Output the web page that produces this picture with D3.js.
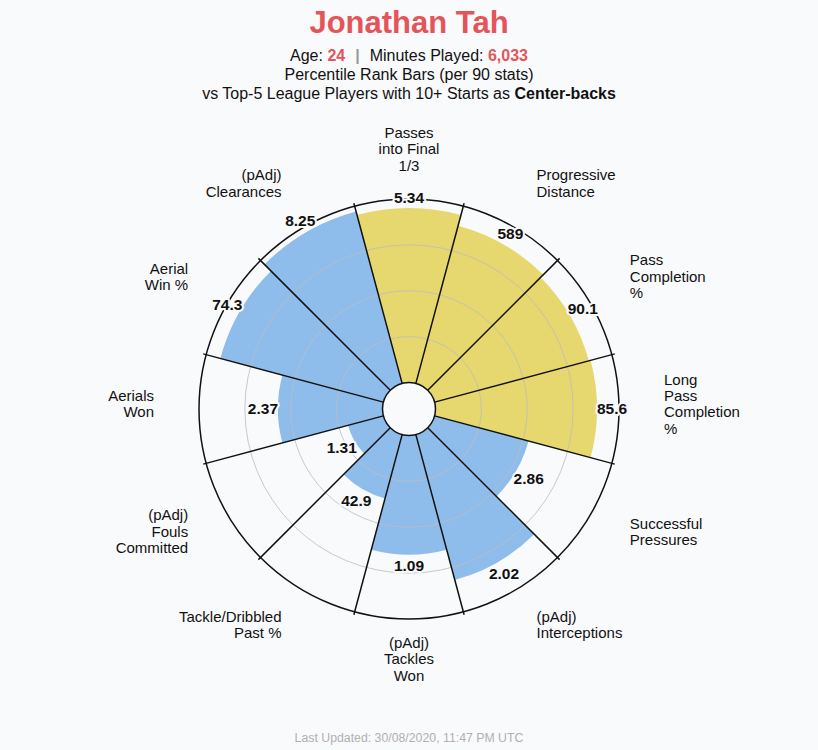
<!DOCTYPE html>
<html>
<head>
<meta charset="utf-8">
<script src="https://cdn.jsdelivr.net/npm/d3@7"></script>
<style>
  html, body { margin: 0; padding: 0; background: #f9fafc; }
  svg { display: block; font-family: "Helvetica Neue", Helvetica, Arial, "Liberation Sans", sans-serif; }
</style>
</head>
<body>
<svg id="chart" width="818" height="750"></svg>
<script>
// ---- data ----
const categories = [
  "Passes\ninto Final\n1/3",
  "Progressive\nDistance",
  "Pass\nCompletion\n%",
  "Long\nPass\nCompletion\n%",
  "Successful\nPressures",
  "(pAdj)\nInterceptions",
  "(pAdj)\nTackles\nWon",
  "Tackle/Dribbled\nPast %",
  "(pAdj)\nFouls\nCommitted",
  "Aerials\nWon",
  "Aerial\nWin %",
  "(pAdj)\nClearances"
];
const statValues = ["5.34", "589", "90.1", "85.6", "2.86", "2.02", "1.09", "42.9", "1.31", "2.37", "74.3", "8.25"];
const percentiles = [95, 89, 87, 88, 53, 82, 65, 36, 20, 57, 92, 97];
const groups = ["possession", "possession", "possession", "possession",
                "defense", "defense", "defense", "defense", "defense", "defense", "defense", "defense"];
const gridTicks = [25, 50, 75];
const playerName = "Jonathan Tah";
const age = "24";
const minutes = "6,033";
const position = "Center-backs";
const updated = "Last Updated: 30/08/2020, 11:47 PM UTC";

// ---- layout ----
const W = 818, H = 750;
const cx = 409, cy = 409;
const innerR = 26.5, outerR = 210;
const bg = "#f9fafc";
const colors = { possession: "#e6d76e", defense: "#8ebdec" };
const red = "#e4555a";

const svg = d3.select("#chart");
svg.append("rect").attr("width", W).attr("height", H).attr("fill", bg);

// ---- header ----
svg.append("text").attr("x", W / 2).attr("y", 33).attr("text-anchor", "middle")
  .attr("font-size", 31).attr("font-weight", "bold").attr("fill", red).text(playerName);

const l1 = svg.append("text").attr("x", W / 2).attr("y", 61).attr("text-anchor", "middle")
  .attr("font-size", 16).attr("fill", "#111");
l1.append("tspan").text("Age: ");
l1.append("tspan").attr("fill", red).attr("font-weight", "bold").text(age);
l1.append("tspan").attr("fill", "#999").attr("font-weight", "bold").attr("dx", 10).text("|");
l1.append("tspan").attr("dx", 10).text("Minutes Played: ");
l1.append("tspan").attr("fill", red).attr("font-weight", "bold").text(minutes);

svg.append("text").attr("x", W / 2).attr("y", 80).attr("text-anchor", "middle")
  .attr("font-size", 16).attr("fill", "#111").text("Percentile Rank Bars (per 90 stats)");

const l3 = svg.append("text").attr("x", W / 2).attr("y", 99).attr("text-anchor", "middle")
  .attr("font-size", 16).attr("fill", "#111");
l3.append("tspan").text("vs Top-5 League Players with 10+ Starts as ");
l3.append("tspan").attr("font-weight", "bold").text(position);

svg.append("text").attr("x", W / 2).attr("y", 742).attr("text-anchor", "middle")
  .attr("font-size", 12.3).attr("fill", "#b0b0b0").text(updated);

// ---- polar chart ----
const n = categories.length;
const step = 2 * Math.PI / n;
const r = d3.scaleLinear().domain([0, 100]).range([innerR, outerR]);
const g = svg.append("g").attr("transform", `translate(${cx},${cy})`);

const data = categories.map((c, i) => ({
  cat: c, val: statValues[i], pct: percentiles[i], grp: groups[i],
  a0: i * step - step / 2, a1: i * step + step / 2, am: i * step
}));

// bars
const arc = d3.arc();
g.selectAll("path.bar").data(data).join("path").attr("class", "bar")
  .attr("d", d => arc({ innerRadius: innerR, outerRadius: r(d.pct), startAngle: d.a0, endAngle: d.a1 }))
  .attr("fill", d => colors[d.grp]);

// grid circles
g.selectAll("circle.grid").data(gridTicks).join("circle").attr("class", "grid")
  .attr("r", d => r(d)).attr("fill", "none").attr("stroke", "#bdbdbd").attr("stroke-width", 1).attr("opacity", 0.8);

// outer circle
g.append("circle").attr("r", outerR).attr("fill", "none").attr("stroke", "#111").attr("stroke-width", 1.5);

// spokes
g.selectAll("line.spoke").data(data).join("line").attr("class", "spoke")
  .attr("x1", d => innerR * Math.sin(d.a0)).attr("y1", d => -innerR * Math.cos(d.a0))
  .attr("x2", d => (outerR + 3) * Math.sin(d.a0)).attr("y2", d => -(outerR + 3) * Math.cos(d.a0))
  .attr("stroke", "#111").attr("stroke-width", 1.5);

// hole
g.append("circle").attr("r", innerR).attr("fill", bg).attr("stroke", "#111").attr("stroke-width", 1.5);

// value labels (offset grows with horizontal text extent)
g.selectAll("text.val").data(data).join("text").attr("class", "val")
  .attr("x", d => (r(d.pct) + 11 + 4 * Math.abs(Math.sin(d.am))) * Math.sin(d.am))
  .attr("y", d => -(r(d.pct) + 11 + 4 * Math.abs(Math.sin(d.am))) * Math.cos(d.am))
  .attr("dy", "0.35em").attr("text-anchor", "middle")
  .attr("font-size", 15.5).attr("font-weight", "bold").attr("fill", "#111")
  .attr("stroke", bg).attr("stroke-width", 4).attr("paint-order", "stroke").attr("stroke-linejoin", "round")
  .text(d => d.val);

// category labels
const labR = 255, lineH = 16.3;
data.forEach(d => {
  const s = Math.sin(d.am), c = Math.cos(d.am);
  const x = labR * s, y = -labR * c - 5;
  const anchor = Math.abs(s) < 0.1 ? "middle" : (s > 0 ? "start" : "end");
  const lines = d.cat.split("\n");
  const t = g.append("text").attr("x", x).attr("y", y).attr("text-anchor", anchor)
    .attr("font-size", 15).attr("fill", "#111");
  lines.forEach((ln, k) => {
    t.append("tspan").attr("x", x)
      .attr("y", y + (k - (lines.length - 1) / 2) * lineH)
      .attr("dy", "0.35em").text(ln);
  });
});
</script>
</body>
</html>
